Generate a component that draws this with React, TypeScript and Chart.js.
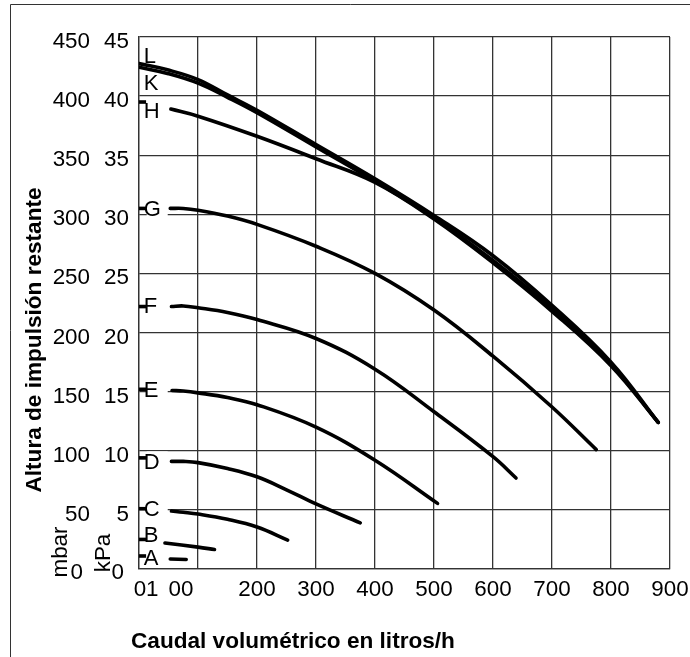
import React, { useEffect, useRef } from 'react';
import { Chart, registerables } from 'chart.js';

Chart.register(...registerables);

// ---- axis ticks ----
const flowGrid = [0, 100, 200, 300, 400, 500, 600, 700, 800, 900];
const xTickLabels = ['01', '00', '200', '300', '400', '500', '600', '700', '800', '900'];
const xTickAnchors = [12, 71, 200, 300, 400, 500, 600, 700, 800, 900];
const kPaTicks = [0, 5, 10, 15, 20, 25, 30, 35, 40, 45];
const kPaTickLabels = ['0', '5', '10', '15', '20', '25', '30', '35', '40', '45'];
const mbarTickLabels = ['0', '50', '100', '150', '200', '250', '300', '350', '400', '450'];

// ---- curves (flow in l/h, residual head in kPa) ----
const flowL = [0, 50, 100, 150, 200, 300, 400, 500, 600, 700, 800, 880];
const headL = [42.75, 42.2, 41.4, 40.1, 38.8, 35.9, 33.0, 29.9, 26.5, 22.3, 17.5, 12.4];
const flowK = [0, 50, 100, 150, 200, 300, 400, 500, 600, 700, 800, 880];
const headK = [42.45, 41.9, 41.1, 39.9, 38.6, 35.7, 32.8, 29.7, 26.1, 22.0, 17.3, 12.4];
const flowH = [54, 100, 200, 300, 400, 500, 600, 700, 800, 880];
const headH = [38.9, 38.3, 36.6, 34.7, 32.7, 29.6, 25.9, 21.8, 17.2, 12.4];
const flowG = [53, 75, 100, 150, 200, 300, 400, 500, 600, 700, 775];
const headG = [30.5, 30.5, 30.35, 29.85, 29.15, 27.3, 25.0, 21.9, 18.0, 13.7, 10.1];
const flowF = [55, 75, 100, 150, 200, 300, 400, 500, 600, 639];
const headF = [22.2, 22.25, 22.1, 21.7, 21.1, 19.5, 16.9, 13.3, 9.5, 7.7];
const flowE = [56, 75, 100, 150, 200, 300, 400, 506];
const headE = [15.1, 15.05, 14.9, 14.5, 13.9, 12.0, 9.2, 5.55];
const flowD = [55, 75, 100, 150, 200, 250, 300, 375];
const headD = [9.1, 9.1, 9.0, 8.5, 7.8, 6.7, 5.5, 3.9];
const flowC = [55, 75, 100, 150, 200, 252];
const headC = [4.9, 4.8, 4.65, 4.2, 3.55, 2.45];
const flowB = [44, 100, 128];
const headB = [2.2, 1.85, 1.65];
const flowA = [53, 80];
const headA = [0.85, 0.8];

// short marks at the left edge next to the curve letters
const markNames = ['H', 'G', 'F', 'E', 'D', 'C', 'B', 'A'];
const markHeads = [39.5, 30.5, 22.2, 15.2, 9.4, 5.1, 2.5, 1.1];
const markFlow = [0, 12];

// curve letters (head at letter centre)
const labelNames = ['L', 'K', 'H', 'G', 'F', 'E', 'D', 'C', 'B', 'A'];
const labelHeads = [43.5, 41.2, 38.8, 30.55, 22.35, 15.2, 9.1, 5.2, 2.96, 1.0];
const labelFlow = 8;

const yTitle = 'Altura de impulsión restante';
const xTitle = 'Caudal volumétrico en litros/h';
const unitMbar = 'mbar';
const unitKPa = 'kPa';

const FONT = '"Liberation Sans", Arial, Helvetica, sans-serif';

const curves: [number[], number[]][] = [
  [flowL, headL], [flowK, headK], [flowH, headH], [flowG, headG], [flowF, headF],
  [flowE, headE], [flowD, headD], [flowC, headC], [flowB, headB], [flowA, headA],
];

const textPlugin = {
  id: 'texts',
  beforeDatasetsDraw(chart: any) {
    const { ctx, scales } = chart;
    const x = scales.x, y = scales.y;
    ctx.save();
    ctx.fillStyle = '#fff';
    labelNames.forEach((name, i) => {
      const px = x.getPixelForValue(labelFlow);
      const py = y.getPixelForValue(labelHeads[i]);
      ctx.fillRect(px + 3, py - 10, 21, 20);
    });
    ctx.restore();
  },
  afterDatasetsDraw(chart: any) {
    const { ctx, scales } = chart;
    const x = scales.x, y = scales.y;
    ctx.save();
    ctx.font = `22px ${FONT}`;
    ctx.fillStyle = '#000';
    ctx.textAlign = 'left';
    ctx.textBaseline = 'alphabetic';
    labelNames.forEach((name, i) => {
      const px = x.getPixelForValue(labelFlow);
      const py = y.getPixelForValue(labelHeads[i]);
      ctx.fillText(name, px, py + 8);
    });
    ctx.restore();
  },
  afterDraw(chart: any) {
    const { ctx, scales } = chart;
    const x = scales.x, y = scales.y;
    ctx.save();
    ctx.fillStyle = '#000';
    ctx.font = `22.4px ${FONT}`;
    ctx.textBaseline = 'alphabetic';
    // y tick labels
    kPaTicks.forEach((v, i) => {
      const py = y.getPixelForValue(v);
      ctx.textAlign = 'right';
      if (i === 0) {
        ctx.fillText(kPaTickLabels[i], 124, py + 10);
        ctx.fillText(mbarTickLabels[i], 83, py + 10);
      } else {
        ctx.fillText(kPaTickLabels[i], 129, py + 11);
        ctx.fillText(mbarTickLabels[i], 90, py + 11);
      }
    });
    // x tick labels
    ctx.textAlign = 'center';
    xTickLabels.forEach((t, i) => {
      ctx.fillText(t, x.getPixelForValue(xTickAnchors[i]), 596);
    });
    // units (rotated)
    const rot = (txt: string, px: number, py: number) => {
      ctx.save();
      ctx.translate(px, py);
      ctx.rotate(-Math.PI / 2);
      ctx.textAlign = 'center';
      ctx.fillText(txt, 0, 0);
      ctx.restore();
    };
    rot(unitMbar, 67, 552);
    rot(unitKPa, 110, 553);
    // titles
    ctx.font = `bold 22.6px ${FONT}`;
    rot(yTitle, 41, 340);
    ctx.textAlign = 'left';
    ctx.fillText(xTitle, 131, 648);
    // frame
    ctx.strokeStyle = '#333';
    ctx.lineWidth = 1;
    ctx.beginPath();
    ctx.moveTo(10.5, 657);
    ctx.lineTo(10.5, 4.5);
    ctx.lineTo(690, 4.5);
    ctx.stroke();
    ctx.restore();
  },
};

export default function App() {
  const ref = useRef<HTMLCanvasElement | null>(null);
  useEffect(() => {
    if (!ref.current) return;
    const lineStyle = {
      borderColor: '#000',
      backgroundColor: '#000',
      borderWidth: 3.6,
      pointRadius: 0,
      showLine: true,
      fill: false,
      tension: 0.4,
      borderCapStyle: 'round' as const,
      borderJoinStyle: 'round' as const,
    };
    const datasets: any[] = [];
    curves.forEach(([fx, fy], i) => {
      datasets.push({
        label: labelNames[i],
        data: fx.map((v, j) => ({ x: v, y: fy[j] })),
        ...lineStyle,
      });
    });
    markNames.forEach((n, i) => {
      datasets.push({
        label: n + '-mark',
        data: markFlow.map((v) => ({ x: v, y: markHeads[i] })),
        ...lineStyle,
        tension: 0,
        borderCapStyle: 'butt',
      });
    });
    const gridColor = '#333';
    const chart = new Chart(ref.current, {
      type: 'scatter',
      data: { datasets },
      plugins: [textPlugin],
      options: {
        animation: false,
        responsive: true,
        maintainAspectRatio: false,
        events: [],
        layout: { padding: { left: 139, right: 20, top: 37, bottom: 88 } },
        plugins: { legend: { display: false }, tooltip: { enabled: false } },
        scales: {
          x: {
            type: 'linear',
            min: flowGrid[0],
            max: flowGrid[flowGrid.length - 1],
            afterBuildTicks: (s: any) => { s.ticks = flowGrid.map((v) => ({ value: v })); },
            ticks: { display: false },
            grid: { color: gridColor, lineWidth: 1.3, drawTicks: false },
            border: { display: true, color: gridColor, width: 1.3 },
          },
          y: {
            type: 'linear',
            min: kPaTicks[0],
            max: kPaTicks[kPaTicks.length - 1],
            afterBuildTicks: (s: any) => { s.ticks = kPaTicks.map((v) => ({ value: v })); },
            ticks: { display: false },
            grid: { color: gridColor, lineWidth: 1.3, drawTicks: false },
            border: { display: true, color: gridColor, width: 1.3 },
          },
        },
      },
    });
    return () => chart.destroy();
  }, []);
  return (
    <div style={{ position: 'absolute', left: 0, top: 0, width: 690, height: 657, background: '#fff' }}>
      <canvas ref={ref} />
    </div>
  );
}
